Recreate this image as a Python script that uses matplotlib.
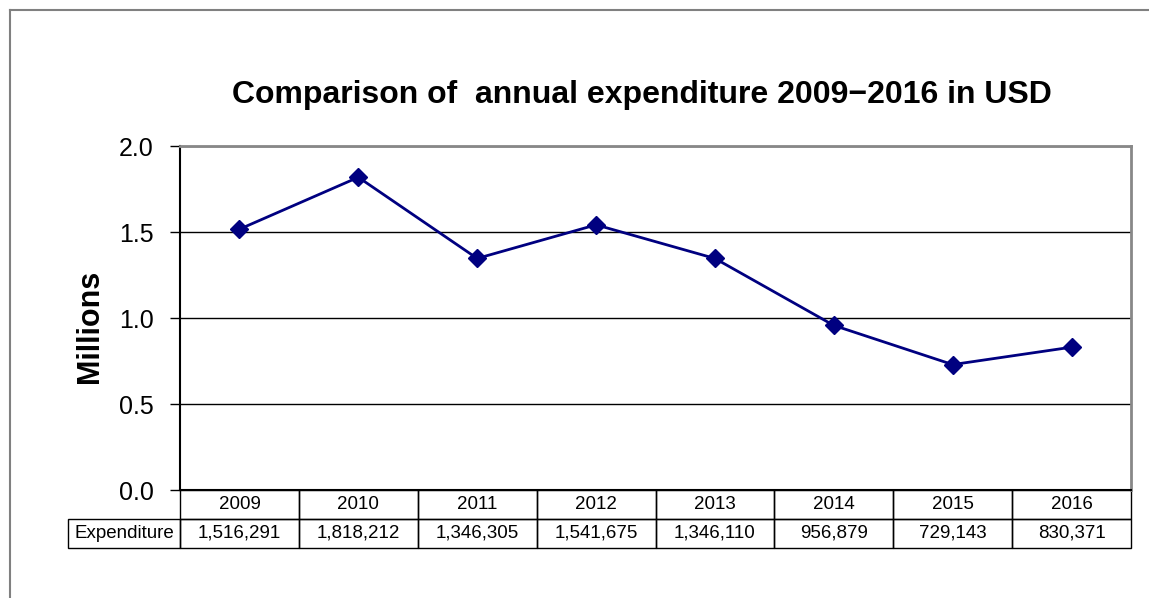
import matplotlib.pyplot as plt
import matplotlib.transforms as mtransforms
from matplotlib.patches import Rectangle
from matplotlib.lines import Line2D

plt.rcParams['font.family'] = ['Liberation Sans', 'DejaVu Sans']

years = ["2009", "2010", "2011", "2012", "2013", "2014", "2015", "2016"]
expenditure = [1516291, 1818212, 1346305, 1541675, 1346110, 956879, 729143, 830371]
row_label = "Expenditure"
title = "Comparison of  annual expenditure 2009\u22122016 in USD"

W, H = 1149, 598
fig = plt.figure(figsize=(W / 100, H / 100), dpi=100)

# plot area in pixels
left, top, right, bottom = 180, 146, 1131, 490
ax = fig.add_axes([left / W, (H - bottom) / H, (right - left) / W, (bottom - top) / H])

xs = list(range(len(years)))
vals = [v / 1e6 for v in expenditure]
ax.plot(xs, vals, color="#000080", lw=2, marker="D", markersize=9.5, zorder=3)

ax.set_xlim(-0.5, len(years) - 0.5)
ax.set_ylim(0, 2.0)
ax.set_yticks([0, 0.5, 1.0, 1.5, 2.0])
ax.set_yticklabels(["0.0", "0.5", "1.0", "1.5", "2.0"], fontsize=18)
ax.tick_params(axis="y", direction="out", length=7, width=1, pad=12)
ax.set_xticks([])
ax.grid(axis="y", color="black", lw=1)
ax.set_axisbelow(True)
for s in ("top", "right"):
    ax.spines[s].set_color("#888888")
    ax.spines[s].set_linewidth(2)
ax.spines["left"].set_linewidth(1.5)
ax.spines["bottom"].set_linewidth(1.5)

ax.set_ylabel("Millions", fontsize=22, fontweight="bold", labelpad=10)
ax.yaxis.label.set_y(0.475)

fig.text(642 / W, 1 - 95 / H, title, ha="center", va="center",
         fontsize=23, fontweight="bold")

# data table below the axes: x in data units, y in axes fraction
trans = mtransforms.blended_transform_factory(ax.transData, ax.transAxes)
rh = 29 / (bottom - top)
lab_w = 112 / (right - left) * len(years)  # label column width in data units
cell_kw = dict(transform=trans, clip_on=False, fill=False, edgecolor="black", lw=1)
txt_kw = dict(transform=trans, clip_on=False, ha="center", va="center", fontsize=13.5)
for i, (yr, v) in enumerate(zip(years, expenditure)):
    ax.add_patch(Rectangle((i - 0.5, -rh), 1, rh, **cell_kw))
    ax.add_patch(Rectangle((i - 0.5, -2 * rh), 1, rh, **cell_kw))
    ax.text(i, -rh / 2, yr, **txt_kw)
    ax.text(i, -1.5 * rh, f"{v:,}", **txt_kw)
ax.add_patch(Rectangle((-0.5 - lab_w, -2 * rh), lab_w, rh, **cell_kw))
ax.text(-0.5 - lab_w / 2, -1.5 * rh, row_label, **txt_kw)

# outer chart frame
fig.add_artist(Line2D([10 / W, 10 / W], [0, 1 - 10 / H], color="#808080", lw=1.5))
fig.add_artist(Line2D([10 / W, 1], [1 - 10 / H, 1 - 10 / H], color="#808080", lw=1.5))

fig.savefig("out.png", dpi=100)
